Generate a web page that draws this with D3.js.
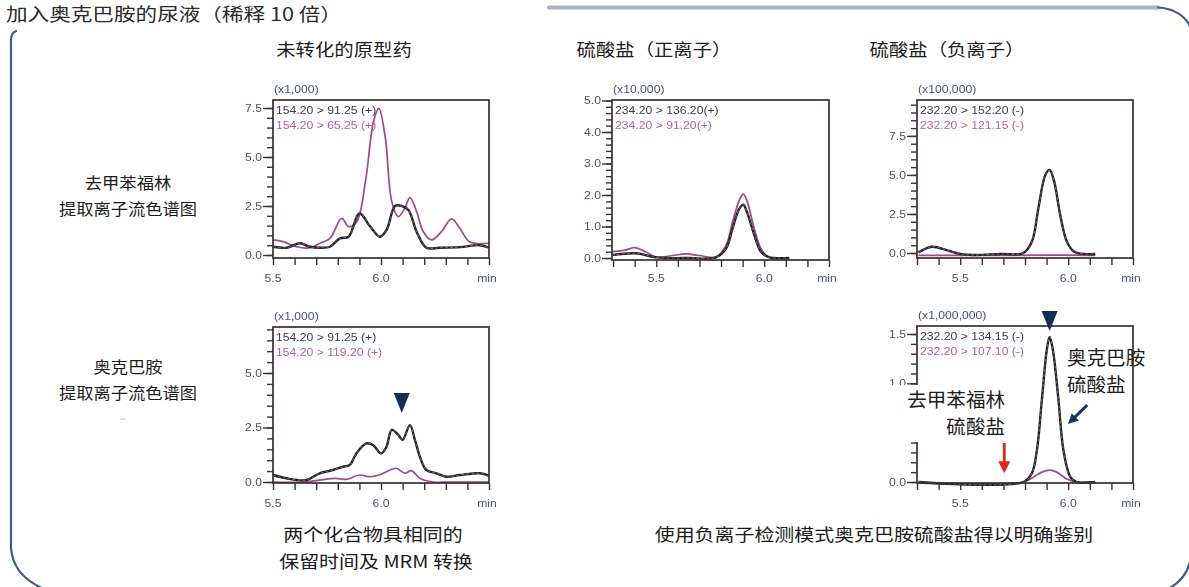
<!DOCTYPE html>
<html>
<head>
<meta charset="utf-8">
<script src="https://cdn.jsdelivr.net/npm/d3@7"></script>
<style>
  html, body { margin: 0; padding: 0; background: #ffffff; }
  svg { display: block; }
</style>
</head>
<body>
<svg id="chart" width="1189" height="587"></svg>
<script>
// ---------------------------------------------------------------
// Chromatogram data (retention time in min, intensity in axis units)
// ---------------------------------------------------------------

// Norfenefrine, unconverted drug, 154.20 > 91.25 (+)  (x1,000)
const nrfQuantTime = [5.50, 5.563, 5.625, 5.671, 5.718, 5.764, 5.81, 5.85, 5.90, 5.95, 5.995, 6.026, 6.065, 6.096, 6.127, 6.165, 6.21, 6.27, 6.365, 6.458, 6.50];
const nrfQuantInt  = [0.42, 0.37, 0.60, 0.42, 0.37, 0.42, 0.85, 0.93, 2.13, 1.45, 0.93, 1.28, 2.50, 2.50, 2.30, 1.19, 0.37, 0.37, 0.40, 0.50, 0.37];
// Norfenefrine, unconverted drug, 154.20 > 65.25 (+)
const nrfQualTime  = [5.50, 5.546, 5.608, 5.671, 5.718, 5.764, 5.818, 5.85, 5.888, 5.93, 5.965, 5.99, 6.02, 6.05, 6.08, 6.11, 6.134, 6.165, 6.196, 6.235, 6.28, 6.327, 6.365, 6.41, 6.50];
const nrfQualInt   = [0.77, 0.68, 0.42, 0.37, 0.60, 0.85, 1.87, 1.45, 1.70, 3.91, 6.80, 7.48, 5.97, 2.72, 1.96, 2.38, 2.93, 2.21, 1.19, 0.77, 1.19, 1.84, 1.36, 0.68, 0.60];

// Norfenefrine sulfate, positive ion, 234.20 > 136.20 (+)  (x10,000)
const nrfSulPosQuantTime = [5.295, 5.406, 5.50, 5.653, 5.776, 5.823, 5.853, 5.884, 5.903, 5.92, 5.954, 5.985, 6.02, 6.116];
const nrfSulPosQuantInt  = [0.09, 0.15, 0.02, 0.00, 0.02, 0.30, 0.93, 1.56, 1.69, 1.46, 0.73, 0.20, 0.03, 0.00];
// Norfenefrine sulfate, positive ion, 234.20 > 91.20 (+)
const nrfSulPosQualTime  = [5.295, 5.35, 5.40, 5.45, 5.50, 5.577, 5.638, 5.70, 5.776, 5.823, 5.853, 5.884, 5.903, 5.92, 5.954, 5.985, 6.02, 6.116];
const nrfSulPosQualInt   = [0.20, 0.24, 0.33, 0.20, 0.03, 0.08, 0.13, 0.08, 0.03, 0.40, 1.14, 1.82, 2.03, 1.82, 0.93, 0.30, 0.03, 0.00];

// Norfenefrine sulfate, negative ion, 232.20 > 152.20 (-)  (x100,000)
const nrfSulNegQuantTime = [5.307, 5.369, 5.438, 5.50, 5.56, 5.685, 5.793, 5.832, 5.862, 5.894, 5.914, 5.935, 5.963, 5.994, 6.03, 6.125];
const nrfSulNegQuantInt  = [0.04, 0.40, 0.19, -0.06, -0.13, -0.06, 0.00, 0.73, 2.86, 5.00, 5.32, 4.59, 2.44, 0.73, 0.06, -0.06];
// Norfenefrine sulfate, negative ion, 232.20 > 121.15 (-)
const nrfSulNegQualTime  = [5.307, 5.60, 5.90, 6.125];
const nrfSulNegQualInt   = [-0.15, -0.16, -0.14, -0.15];

// Octopamine, unconverted drug, 154.20 > 91.25 (+)  (x1,000)
const octQuantTime = [5.50, 5.562, 5.655, 5.716, 5.778, 5.824, 5.855, 5.886, 5.932, 5.963, 6.00, 6.025, 6.05, 6.08, 6.10, 6.134, 6.157, 6.18, 6.21, 6.256, 6.303, 6.365, 6.458, 6.50];
const octQuantInt  = [0.32, 0.17, 0.09, 0.40, 0.55, 0.70, 0.78, 1.31, 1.77, 1.70, 1.31, 1.61, 2.39, 2.16, 1.93, 2.61, 1.93, 1.16, 0.55, 0.40, 0.24, 0.32, 0.40, 0.28];
// Octopamine, unconverted drug, 154.20 > 119.20 (+)
const octQualTime  = [5.50, 5.64, 5.716, 5.79, 5.84, 5.90, 5.95, 6.00, 6.07, 6.11, 6.14, 6.18, 6.24, 6.33, 6.50];
const octQualInt   = [0.00, 0.00, 0.09, 0.17, 0.12, 0.32, 0.24, 0.35, 0.63, 0.40, 0.52, 0.17, 0.00, 0.00, 0.00];

// Octopamine sulfate, negative ion, 232.20 > 134.15 (-)  (x1,000,000)
const octSulNegQuantTime = [5.307, 5.793, 5.832, 5.855, 5.878, 5.901, 5.914, 5.929, 5.955, 5.978, 6.01, 6.04, 6.125];
const octSulNegQuantInt  = [0.00, 0.00, 0.09, 0.32, 0.83, 1.34, 1.47, 1.34, 0.83, 0.32, 0.05, 0.00, 0.00];
// Octopamine sulfate, negative ion, 232.20 > 107.10 (-)
const octSulNegQualTime  = [5.307, 5.45, 5.793, 5.84, 5.878, 5.914, 5.947, 5.994, 6.04, 6.125];
const octSulNegQualInt   = [-0.01, -0.02, 0.00, 0.05, 0.10, 0.12, 0.10, 0.03, 0.00, 0.00];

// Axis labels
const yMajorA = [0, 2.5, 5.0, 7.5];
const yMajorB = [0, 1, 2, 3, 4, 5];
const yMajorC = [0, 2.5, 5.0, 7.5];
const yMajorD = [0, 2.5, 5.0];
const yMajorE = [0, 0.5, 1.0, 1.5];
const xLabelTimes = [5.5, 6.0];
const xUnit = "min";

const multiplierLabels = ["(x1,000)", "(x10,000)", "(x100,000)", "(x1,000)", "(x1,000,000)"];
const traceLabels = [
  ["154.20 > 91.25 (+)", "154.20 > 65.25 (+)"],
  ["234.20 > 136.20(+)", "234.20 > 91.20(+)"],
  ["232.20 > 152.20 (-)", "232.20 > 121.15 (-)"],
  ["154.20 > 91.25 (+)", "154.20 > 119.20 (+)"],
  ["232.20 > 134.15 (-)", "232.20 > 107.10 (-)"]
];

// Peak markers (time, intensity of marker tip)
const octPeakMarkD = { t: 6.096, v: 3.17 };
const octPeakMarkE = { t: 5.914, v: 1.53 };

// ---------------------------------------------------------------
// Drawing
// ---------------------------------------------------------------
const svg = d3.select("#chart");
const INK = "#3b3030";
const BLACK_TRACE = "#1f1f1f";
const MAGENTA = "#a4468f";
const TICK_TEXT = "#4a4f7e";
const CJK = '"Noto Sans CJK SC", "Noto Sans", sans-serif';
const NUM = '"Liberation Sans", Arial, sans-serif';

const defs = svg.append("defs");
defs.append("filter").attr("id", "soft")
  .attr("x", "-5%").attr("y", "-5%").attr("width", "110%").attr("height", "110%")
  .append("feGaussianBlur").attr("stdDeviation", 0.45);
defs.append("marker").attr("id", "navyHead")
  .attr("viewBox", "0 0 10 10").attr("refX", 5).attr("refY", 5)
  .attr("markerWidth", 3.4).attr("markerHeight", 3.4).attr("orient", "auto")
  .append("path").attr("d", "M0,0 L10,5 L0,10 z").attr("fill", "#1b355e");

// stretched text helper
function label(g, str, x, y, o = {}) {
  const sx = o.sx ?? 1.12;
  return g.append("text")
    .attr("transform", `translate(${x},${y}) scale(${sx},1)`)
    .attr("text-anchor", o.anchor || "start")
    .attr("font-family", o.family || CJK)
    .attr("font-size", o.size || 17)
    .attr("fill", o.fill || "#1c1c1c")
    .attr("font-weight", o.weight || 400)
    .text(str);
}

// outer rounded frame
const frame = svg.append("g").attr("fill", "none").attr("stroke-linecap", "round");
frame.append("path")
  .attr("d", "M16,31 Q11,33 11,40 L11,548 Q13,575 42,588")
  .attr("stroke", "#3f5c8c").attr("stroke-width", 2.2);
frame.append("path")
  .attr("d", "M549,7.5 L1158,7.5")
  .attr("stroke", "#a9b0b8").attr("stroke-width", 4);
frame.append("path")
  .attr("d", "M1158,7.5 Q1181,9 1190,26")
  .attr("stroke", "#3f5c8c").attr("stroke-width", 2.2);
frame.append("path")
  .attr("d", "M1190,562 Q1185,581 1166,590")
  .attr("stroke", "#3f5c8c").attr("stroke-width", 2.2);

// header
label(svg, "加入奥克巴胺的尿液（稀释 10 倍）", 6, 21, { size: 18, sx: 1.2, fill: "#2a2a2a" });

// column titles
label(svg, "未转化的原型药", 344, 56, { anchor: "middle", size: 17, sx: 1.14 });
label(svg, "硫酸盐（正离子）", 654, 56, { anchor: "middle", size: 17, sx: 1.14 });
label(svg, "硫酸盐（负离子）", 947, 56, { anchor: "middle", size: 17, sx: 1.14 });

// row titles
label(svg, "去甲苯福林", 128, 189, { anchor: "middle", size: 16, sx: 1.08 });
label(svg, "提取离子流色谱图", 128, 215, { anchor: "middle", size: 16, sx: 1.08 });
label(svg, "奥克巴胺", 128, 373, { anchor: "middle", size: 16, sx: 1.08 });
label(svg, "提取离子流色谱图", 128, 399, { anchor: "middle", size: 16, sx: 1.08 });
svg.append("line").attr("x1", 120).attr("x2", 125).attr("y1", 419).attr("y2", 419)
  .attr("stroke", "#c8c8c8").attr("stroke-width", 1.2);

// bottom captions
label(svg, "两个化合物具相同的", 373, 541, { anchor: "middle", size: 17.5, sx: 1.14 });
label(svg, "保留时间及 MRM 转换", 376, 568, { anchor: "middle", size: 17.5, sx: 1.14 });
label(svg, "使用负离子检测模式奥克巴胺硫酸盐得以明确鉴别", 874, 541, { anchor: "middle", size: 17.5, sx: 1.14 });

// panel layout
const panels = [
  { id: "A", px: [273, 489], py: [258, 100], xd: [5.5, 6.5], yd: [-0.153, 7.908], major: yMajorA, minorStep: 0.5,
    series: [[nrfQualTime, nrfQualInt, MAGENTA], [nrfQuantTime, nrfQuantInt, BLACK_TRACE]], mult: 0, legend: 0, xlab: 278 },
  { id: "B", px: [612, 829], py: [260, 100], xd: [5.295, 6.30], yd: [-0.063, 5.016], major: yMajorB, minorStep: 0.2,
    series: [[nrfSulPosQualTime, nrfSulPosQualInt, MAGENTA], [nrfSulPosQuantTime, nrfSulPosQuantInt, BLACK_TRACE]], mult: 1, legend: 1, xlab: 278 },
  { id: "C", px: [917, 1133], py: [258, 100], xd: [5.30, 6.30], yd: [-0.32, 9.8], major: yMajorC, minorStep: 0.5,
    series: [[nrfSulNegQualTime, nrfSulNegQualInt, MAGENTA], [nrfSulNegQuantTime, nrfSulNegQuantInt, BLACK_TRACE]], mult: 2, legend: 2, xlab: 278 },
  { id: "D", px: [273, 489], py: [483, 327], xd: [5.5, 6.5], yd: [-0.046, 7.11], major: yMajorD, minorStep: 0.5,
    series: [[octQualTime, octQualInt, MAGENTA], [octQuantTime, octQuantInt, BLACK_TRACE]], mult: 3, legend: 3, xlab: 503 },
  { id: "E", px: [917, 1133], py: [483, 326], xd: [5.30, 6.30], yd: [-0.01, 1.581], major: yMajorE, minorStep: 0.1,
    series: [[octSulNegQualTime, octSulNegQualInt, MAGENTA], [octSulNegQuantTime, octSulNegQuantInt, BLACK_TRACE]], mult: 4, legend: 4, xlab: 503 }
];

const fmt = d3.format(".1f");
const scales = {};

panels.forEach(p => {
  const x = d3.scaleLinear().domain(p.xd).range(p.px);
  const y = d3.scaleLinear().domain(p.yd).range(p.py);
  scales[p.id] = { x, y };
  const g = svg.append("g").attr("class", "panel-" + p.id).attr("filter", "url(#soft)");

  // traces
  const line = d3.line().x(d => x(d[0])).y(d => y(d[1])).curve(d3.curveCatmullRom.alpha(0.5));
  p.series.forEach(([ts, vs, col]) => {
    const pts = ts.map((t, i) => [t, vs[i]]);
    if (col === BLACK_TRACE) {
      g.append("path").datum(pts).attr("d", line).attr("fill", "none")
        .attr("stroke", col).attr("stroke-width", 2.4).attr("stroke-linejoin", "round");
      g.append("path").datum(pts).attr("d", line).attr("fill", "none")
        .attr("stroke", "#8d8d8d").attr("stroke-width", 0.7).attr("stroke-dasharray", "3,2");
    } else {
      g.append("path").datum(pts).attr("d", line).attr("fill", "none")
        .attr("stroke", col).attr("stroke-width", 1.7).attr("stroke-linejoin", "round");
    }
  });

  // plot box
  g.append("rect")
    .attr("x", p.px[0]).attr("y", p.py[1])
    .attr("width", p.px[1] - p.px[0]).attr("height", p.py[0] - p.py[1])
    .attr("fill", "none").attr("stroke", INK).attr("stroke-width", 1.7);

  // y ticks: minor then major
  const minor = d3.range(0, p.yd[1] + 1e-9, p.minorStep);
  const yMinorAxis = d3.axisLeft(y).tickValues(minor).tickSize(6).tickFormat("");
  const yMajorAxis = d3.axisLeft(y).tickValues(p.major).tickSize(10).tickFormat("");
  [yMinorAxis, yMajorAxis].forEach(ax => {
    const a = g.append("g").attr("transform", `translate(${p.px[0]},0)`).call(ax);
    a.select(".domain").remove();
    a.selectAll("line").attr("stroke", INK).attr("stroke-width", 1.4);
  });
  p.major.forEach(v => {
    label(g, fmt(v), p.px[0] - 11, y(v) + 3.6, { anchor: "end", family: NUM, size: 10, sx: 1.22, fill: TICK_TEXT });
  });

  // x ticks every 0.1 min
  const xt = d3.range(Math.ceil(p.xd[0] * 10 - 1e-6), Math.floor(p.xd[1] * 10 + 1e-6) + 1).map(k => k / 10);
  const xAxis = d3.axisBottom(x).tickValues(xt).tickSize(7).tickFormat("");
  const xa = g.append("g").attr("transform", `translate(0,${p.py[0]})`).call(xAxis);
  xa.select(".domain").remove();
  xa.selectAll("line").attr("stroke", INK).attr("stroke-width", 1.4);
  xLabelTimes.forEach(t => {
    label(g, fmt(t), x(t), p.xlab + 3.6, { anchor: "middle", family: NUM, size: 10, sx: 1.22, fill: TICK_TEXT });
  });
  label(g, xUnit, p.px[1] - 2, p.xlab + 3.6, { anchor: "middle", family: NUM, size: 10, sx: 1.22, fill: TICK_TEXT });

  // multiplier and trace legend
  label(g, multiplierLabels[p.mult], p.px[0] + 1, p.py[1] - 7, { family: NUM, size: 10, sx: 1.22, fill: TICK_TEXT });
  label(g, traceLabels[p.legend][0], p.px[0] + 3, p.py[1] + 14, { family: NUM, size: 10, sx: 1.22, fill: "#3b3a58" });
  label(g, traceLabels[p.legend][1], p.px[0] + 3, p.py[1] + 29, { family: NUM, size: 10, sx: 1.22, fill: "#b55fab" });
});

// peak markers (navy triangles)
function peakMarker(s, m) {
  const cx = s.x(m.t), tip = s.y(m.v);
  svg.append("path")
    .attr("d", `M${cx - 8},${tip - 20} L${cx + 8},${tip - 20} L${cx},${tip} Z`)
    .attr("fill", "#172f55").attr("filter", "url(#soft)");
}
peakMarker(scales.D, octPeakMarkD);
peakMarker(scales.E, octPeakMarkE);

// annotations in the negative-ion octopamine panel
const sE = scales.E;
const annot = svg.append("g");
annot.append("rect").attr("x", 880).attr("y", 385).attr("width", 130).attr("height", 57).attr("fill", "#ffffff");
label(annot, "去甲苯福林", 1005, 407, { anchor: "end", size: 19, sx: 1.03 });
label(annot, "硫酸盐", 1005, 434, { anchor: "end", size: 19, sx: 1.03 });
label(annot, "奥克巴胺", 1067, 365, { anchor: "start", size: 19, sx: 1.03 });
label(annot, "硫酸盐", 1067, 392, { anchor: "start", size: 19, sx: 1.03 });

// red arrow: expected position of norfenefrine sulfate
const rx = sE.x(5.704), rTop = sE.y(0.395), rTip = sE.y(0.09);
annot.append("line").attr("x1", rx).attr("x2", rx).attr("y1", rTop).attr("y2", rTip - 9)
  .attr("stroke", "#e1261c").attr("stroke-width", 2.8);
annot.append("path").attr("d", `M${rx - 6},${rTip - 12} L${rx + 6},${rTip - 12} L${rx},${rTip} Z`).attr("fill", "#e1261c");

// navy arrow pointing to the octopamine sulfate peak
annot.append("line")
  .attr("x1", sE.x(6.088)).attr("y1", sE.y(0.78))
  .attr("x2", sE.x(6.016)).attr("y2", sE.y(0.625))
  .attr("stroke", "#1b355e").attr("stroke-width", 3)
  .attr("marker-end", "url(#navyHead)");
</script>
</body>
</html>
